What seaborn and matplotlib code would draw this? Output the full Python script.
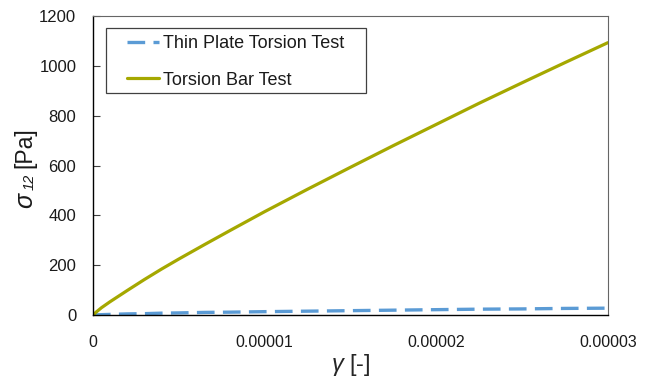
import numpy as np
import pandas as pd
import matplotlib
matplotlib.use("Agg")
import matplotlib.pyplot as plt
from matplotlib.patches import Rectangle
import seaborn as sns

# Nilai
gamma = [0, 0.02e-5, 0.05e-5, 0.1e-5, 0.2e-5, 0.3e-5, 0.4e-5, 0.5e-5, 0.65e-5, 0.8e-5,
         1.0e-5, 1.25e-5, 1.5e-5, 1.75e-5, 2.0e-5, 2.25e-5, 2.5e-5, 2.75e-5, 3.0e-5]
torsion_bar = [0, 13, 30, 54, 99, 143, 185, 225, 283, 340, 415, 505, 593, 680, 765,
               850, 932, 1013, 1093]
thin_plate = [0, 1, 2, 3, 5, 6, 8, 9, 11, 12, 14, 16, 18, 20, 22, 24, 25, 27, 28]

df = pd.DataFrame({"gamma": gamma, "Thin Plate Torsion Test": thin_plate,
                   "Torsion Bar Test": torsion_bar})

sns.set_style("white")
plt.rcParams['font.family'] = ['Liberation Sans', 'DejaVu Sans']
plt.rcParams['mathtext.fontset'] = 'custom'
plt.rcParams['mathtext.it'] = 'Liberation Sans:italic'
plt.rcParams['mathtext.rm'] = 'Liberation Sans'
plt.rcParams['text.color'] = '#1a1a1a'

W, H = 650, 382
fig = plt.figure(figsize=(6.5, 3.82), dpi=100)
ax = fig.add_axes([0.143, 0.175, 0.792, 0.783])

sns.lineplot(data=df, x="gamma", y="Thin Plate Torsion Test", ax=ax, color="#5B9BD5",
             linewidth=2.4, label="Thin Plate Torsion Test")
ax.lines[-1].set_dashes([5.3, 2.5])
sns.lineplot(data=df, x="gamma", y="Torsion Bar Test", ax=ax, color="#A5A800",
             linewidth=2.3, label="Torsion Bar Test")

ax.set_xlim(0, 3e-5)
ax.set_ylim(0, 1200)
ax.set_xticks([0, 1e-5, 2e-5, 3e-5])
ax.set_xticklabels(["0", "0.00001", "0.00002", "0.00003"])
ax.set_yticks(range(0, 1201, 200))
ax.tick_params(axis="x", direction="in", length=5, labelsize=11.5, pad=14,
               color="#404040", labelcolor="#1a1a1a")
ax.tick_params(axis="y", direction="in", length=5, labelsize=12, pad=12, left=True,
               color="#404040", labelcolor="#1a1a1a")

ax.set_xlabel(r"$\gamma$ [-]", fontsize=17, labelpad=2)
ax.set_ylabel("")

# label sumbu y: sigma miring dengan subskrip 12 miring
fig.text(32 / W, 174 / H, "σ", fontsize=18, fontstyle="italic", rotation=90,
         rotation_mode="anchor", ha="left", va="baseline")
fig.text(34 / W, 192 / H, "12", fontsize=10.5, fontstyle="italic", rotation=90,
         rotation_mode="anchor", ha="left", va="baseline")
fig.text(31 / W, 214 / H, "[Pa]", fontsize=16.5, rotation=90,
         rotation_mode="anchor", ha="left", va="baseline")

for side in ["left", "bottom"]:
    ax.spines[side].set_color("black")
    ax.spines[side].set_linewidth(1.0)
for side in ["top", "right"]:
    ax.spines[side].set_color("#666666")
    ax.spines[side].set_linewidth(0.8)

# bingkai legenda
ax.add_patch(Rectangle((0.025, 0.742), 0.505, 0.218, transform=ax.transAxes,
                       fill=True, facecolor="white", edgecolor="#404040",
                       linewidth=0.9, zorder=4))
leg = ax.legend(loc="upper left", bbox_to_anchor=(0.066, 0.937), fontsize=13,
                frameon=False, handlelength=1.8, handletextpad=0.2, borderpad=0,
                labelspacing=1.1, borderaxespad=0)
leg.set_zorder(5)

plt.savefig("out.png", dpi=100)
